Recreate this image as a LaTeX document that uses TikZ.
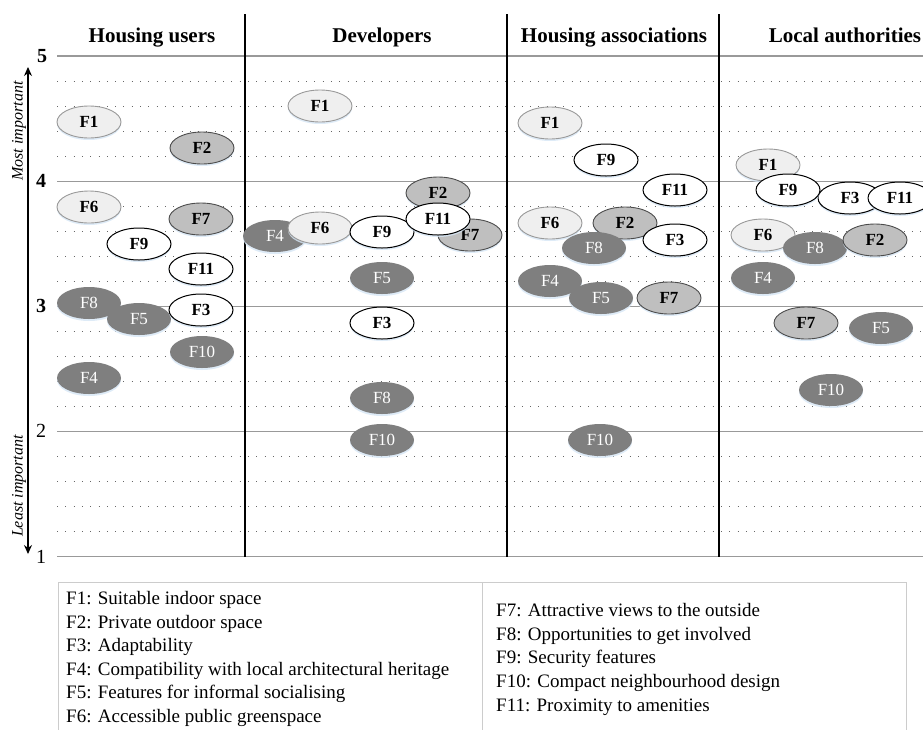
\documentclass[tikz,border=0pt]{standalone}
\usepackage{fontspec}
\setmainfont{Liberation Serif}
\usetikzlibrary{shapes.geometric,arrows.meta,shadows}
\definecolor{dgray}{HTML}{7F7F7F}
\definecolor{mgray}{HTML}{BFBFBF}
\definecolor{lgray}{HTML}{EFEFEF}
\definecolor{glow}{HTML}{D6E6F5}
\tikzset{
  ell/.style={ellipse, minimum width=64pt, minimum height=32pt, inner sep=0pt,
    font=\fontsize{17}{20}\selectfont,
    drop shadow={shadow xshift=0pt, shadow yshift=-2pt, fill=glow, opacity=0.8}},
  ellL/.style={ell, fill=lgray, draw=gray!80, line width=0.9pt, font=\fontsize{17}{20}\selectfont\bfseries},
  ellM/.style={ell, fill=mgray, draw=black!70, line width=0.9pt, font=\fontsize{17}{20}\selectfont\bfseries},
  ellW/.style={ell, fill=white, draw=black, line width=1pt, font=\fontsize{17}{20}\selectfont\bfseries},
  ellD/.style={ell, fill=dgray, draw=none, text=white},
  major/.style={draw=black!40, line width=1.3pt},
  minor/.style={draw=black!60, line width=1pt, dash pattern=on 1pt off 7.3pt},
  divider/.style={draw=black, line width=1.4pt},
  header/.style={font=\fontsize{21}{25}\selectfont\bfseries, anchor=base},
  tick/.style={font=\fontsize{20}{24}\selectfont},
  axlab/.style={font=\fontsize{16}{19}\selectfont\itshape, rotate=90},
  legtext/.style={font=\fontsize{19}{23}\selectfont, anchor=base west, inner sep=0pt},
  legbox/.style={draw=black!20, line width=1pt}
}
\begin{document}
\begin{tikzpicture}[x=1pt,y=-1pt]
\useasboundingbox (0,0) rectangle (923,729);
% grid
\foreach \u in {0,1,2,3}{
  \foreach \m in {1,2,3,4}{
    \path[minor] (57,{56+\u*125.2+\m*25.04}) -- (923,{56+\u*125.2+\m*25.04});
  }
}
\foreach \u in {0,1,2,3,4}{
  \path[major] (57,{56+\u*125.2}) -- (923,{56+\u*125.2});
}
% dividers
\path[divider] (245,14) -- (245,557);
\path[divider] (507,14) -- (507,557);
\path[divider] (719,14) -- (719,557);
% headers
\node[header] (h1) at (152,42) {Housing users};
\node[header] (h2) at (382,42) {Developers};
\node[header] (h3) at (614,42) {Housing associations};
\node[header] (h4) at (845,42) {Local authorities};
% ticks
\node[tick,font=\fontsize{20}{24}\selectfont\bfseries] (t5) at (42,56) {5};
\node[tick,font=\fontsize{20}{24}\selectfont\bfseries] (t4) at (41,181) {4};
\node[tick,font=\fontsize{20}{24}\selectfont\bfseries] (t3) at (41,306) {3};
\node[tick] (t2) at (41,431) {2};
\node[tick] (t1) at (41,557) {1};
% axis arrow
\coordinate (atop) at (28,67);
\coordinate (abot) at (28,554);
\draw[line width=1.2pt, {Stealth[length=9pt,width=8pt]}-{Stealth[length=9pt,width=8pt]}] (atop) -- (abot);
\node[axlab] (most) at (19,131) {Most important};
\node[axlab] (least) at (19,486) {Least important};
% Panel 1: Housing users
\node[ellL] (a1) at (89,122) {F1};
\node[ellM] (a2) at (202,148) {F2};
\node[ellL] (a6) at (89,207) {F6};
\node[ellM] (a7) at (201,219) {F7};
\node[ellW] (a9) at (139,244) {F9};
\node[ellW] (a11) at (201,269) {F11};
\node[ellD] (a8) at (89,303) {F8};
\node[ellD] (a5) at (139,319) {F5};
\node[ellW] (a3) at (201,310) {F3};
\node[ellD] (a10) at (202,352) {F10};
\node[ellD] (a4) at (89,378) {F4};
% Panel 2: Developers
\node[ellL] (b1) at (320,106) {F1};
\node[ellD] (b4) at (275,236) {F4};
\node[ellL] (b6) at (320,228) {F6};
\node[ellW] (b9) at (382,232) {F9};
\node[ellM] (b2) at (438,193) {F2};
\node[ellM] (b7) at (470,235) {F7};
\node[ellW] (b11) at (438,219) {F11};
\node[ellD] (b5) at (382,278) {F5};
\node[ellW] (b3) at (382,323) {F3};
\node[ellD] (b8) at (382,398) {F8};
\node[ellD] (b10) at (382,440) {F10};
% Panel 3: Housing associations
\node[ellL] (c1) at (550,123) {F1};
\node[ellW] (c9) at (606,160) {F9};
\node[ellW] (c11) at (675,190) {F11};
\node[ellL] (c6) at (550,223) {F6};
\node[ellM] (c2) at (625,223) {F2};
\node[ellD] (c8) at (594,248) {F8};
\node[ellW] (c3) at (675,240) {F3};
\node[ellD] (c4) at (550,281) {F4};
\node[ellD] (c5) at (601,298) {F5};
\node[ellM] (c7) at (669,298) {F7};
\node[ellD] (c10) at (600,440) {F10};
% Panel 4: Local authorities
\node[ellL] (d1) at (768,165) {F1};
\node[ellW] (d3) at (850,198) {F3};
\node[ellW] (d9) at (788,190) {F9};
\node[ellW] (d11) at (900,198) {F11};
\node[ellL] (d6) at (763,235) {F6};
\node[ellD] (d8) at (815,248) {F8};
\node[ellM] (d2) at (875,240) {F2};
\node[ellD] (d4) at (763,278) {F4};
\node[ellM] (d7) at (806,323) {F7};
\node[ellD] (d5) at (881,328) {F5};
\node[ellD] (d10) at (831,390) {F10};
% legend
\path[legbox] (58,740) -- (58,582) -- (482,582) -- (482,740);
\path[legbox] (482,582) -- (906,582) -- (906,740);
\node[legtext] (l1) at (66,604.5) {F1: Suitable indoor space};
\node[legtext] (l2) at (66,628) {F2: Private outdoor space};
\node[legtext] (l3) at (66,651.5) {F3: Adaptability};
\node[legtext] (l4) at (66,675) {F4: Compatibility with local architectural heritage};
\node[legtext] (l5) at (66,698.5) {F5: Features for informal socialising};
\node[legtext] (l6) at (66,722) {F6: Accessible public greenspace};
\node[legtext] (r7) at (496,616.5) {F7: Attractive views to the outside};
\node[legtext] (r8) at (496,640.2) {F8: Opportunities to get involved};
\node[legtext] (r9) at (496,663.9) {F9: Security features};
\node[legtext] (r10) at (496,687.6) {F10: Compact neighbourhood design};
\node[legtext] (r11) at (496,711.3) {F11: Proximity to amenities};
\end{tikzpicture}
\end{document}
